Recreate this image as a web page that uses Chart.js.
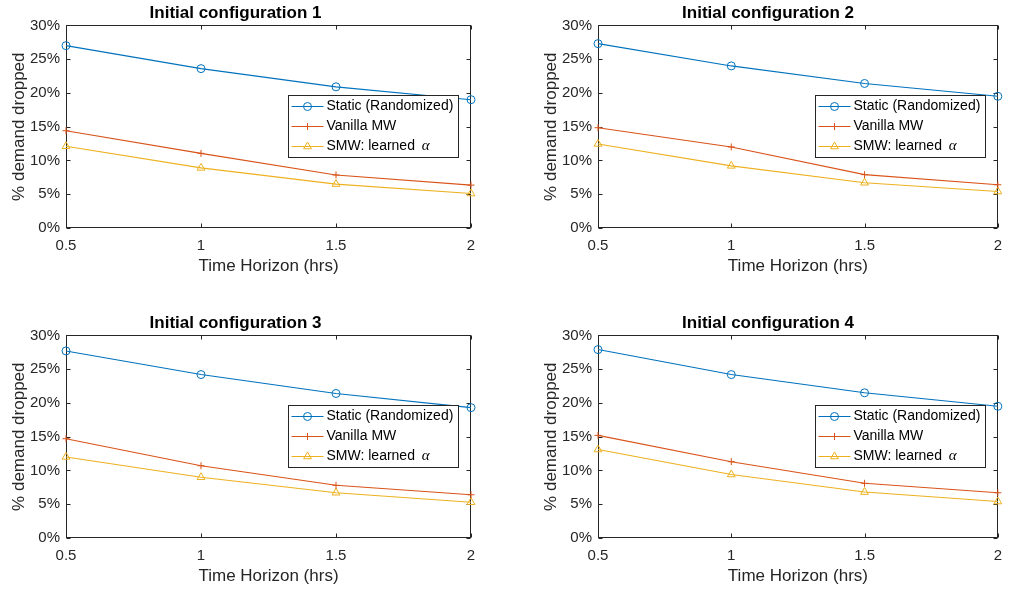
<!DOCTYPE html>
<html><head><meta charset="utf-8">
<script src="https://cdn.jsdelivr.net/npm/chart.js@4/dist/chart.umd.min.js"></script>
<style>
html,body{margin:0;padding:0;background:#fff;width:1011px;height:590px;overflow:hidden}
canvas{position:absolute;display:block}
</style></head><body>
<canvas id="c1" width="505" height="290" style="left:0;top:0"></canvas>
<canvas id="c2" width="479" height="290" style="left:532px;top:0"></canvas>
<canvas id="c3" width="505" height="290" style="left:0;top:310px"></canvas>
<canvas id="c4" width="479" height="290" style="left:532px;top:310px"></canvas>
<script>
// ---- data ----
const horizons = [0.5, 1, 1.5, 2];
const xTicks = [0.5, 1, 1.5, 2];
const yTicks = [0, 5, 10, 15, 20, 25, 30];
const seriesNames = ['Static (Randomized)', 'Vanilla MW', 'SMW: learned α'];
const titles = ['Initial configuration 1', 'Initial configuration 2', 'Initial configuration 3', 'Initial configuration 4'];
const xLabel = 'Time Horizon (hrs)';
const yLabel = '% demand dropped';

const static1  = [27.0, 23.6, 20.9, 19.0];
const vanilla1 = [14.4, 11.05, 7.85, 6.35];
const smw1     = [12.1, 8.9, 6.5, 5.1];

const static2  = [27.3, 24.0, 21.4, 19.5];
const vanilla2 = [14.85, 12.0, 7.9, 6.4];
const smw2     = [12.45, 9.2, 6.7, 5.4];

const static3  = [27.7, 24.2, 21.4, 19.3];
const vanilla3 = [14.7, 10.7, 7.8, 6.4];
const smw3     = [12.0, 9.0, 6.7, 5.3];

const static4  = [27.9, 24.2, 21.5, 19.5];
const vanilla4 = [15.2, 11.3, 8.1, 6.7];
const smw4     = [13.1, 9.4, 6.8, 5.4];

// ---- style ----
const F = '"Liberation Sans", Arial, Helvetica, sans-serif';
const colors = ['#0072BD', '#D95319', '#EDB120'];
const markers = ['circle', 'cross', 'triangle'];
const markerR = [4, 3.5, 4.5];
const AX = '#262626';

const framePlugin = {
  id: 'frame',
  beforeDatasetsDraw(chart) {
    const {ctx, chartArea: a, scales: {x, y}} = chart;
    ctx.save();
    ctx.strokeStyle = AX;
    ctx.lineWidth = 1;
    const L = Math.round(a.left) + 0.5, R = Math.round(a.right) - 0.5;
    const T = Math.round(a.top) + 0.5, B = Math.round(a.bottom) - 0.5;
    ctx.strokeRect(L, T, R - L, B - T);
    const tl = 4;
    ctx.beginPath();
    xTicks.forEach(v => {
      const px = Math.round(x.getPixelForValue(v)) + 0.5;
      ctx.moveTo(px, B); ctx.lineTo(px, B - tl);
      ctx.moveTo(px, T); ctx.lineTo(px, T + tl);
    });
    yTicks.forEach(v => {
      const py = Math.round(y.getPixelForValue(v)) + 0.5;
      ctx.moveTo(L, py); ctx.lineTo(L + tl, py);
      ctx.moveTo(R, py); ctx.lineTo(R - tl, py);
    });
    ctx.stroke();
    ctx.restore();
  },
  afterDatasetsDraw(chart) {
    const {ctx, chartArea: a} = chart;
    const w = 170, h = 62;
    const bx = Math.round(a.right - 13 - w) + 0.5;
    const by = Math.round(a.top + 70) + 0.5;
    ctx.save();
    ctx.fillStyle = '#fff';
    ctx.fillRect(bx, by, w, h);
    ctx.strokeStyle = AX;
    ctx.lineWidth = 1;
    ctx.strokeRect(bx, by, w, h);
    chart.data.datasets.forEach((ds, i) => {
      const cy = by + 11 + i * 20;
      ctx.strokeStyle = ds.borderColor;
      ctx.lineWidth = 1;
      ctx.beginPath();
      ctx.moveTo(bx + 3, cy); ctx.lineTo(bx + 35, cy);
      ctx.stroke();
      ctx.fillStyle = 'rgba(0,0,0,0)';
      ctx.strokeStyle = ds.borderColor;
      Chart.helpers.drawPoint(ctx, {pointStyle: ds.pointStyle, radius: ds.pointRadius, borderWidth: 1, rotation: 0}, bx + 19, cy);
      ctx.fillStyle = '#000';
      ctx.textBaseline = 'middle';
      ctx.textAlign = 'left';
      ctx.font = '14px ' + F;
      const label = ds.label;
      if (label.endsWith('α')) {
        const base = label.slice(0, -1);
        ctx.fillText(base, bx + 38, cy);
        const wb = ctx.measureText(base).width;
        ctx.font = 'italic 15px "Liberation Serif", "DejaVu Serif", serif';
        ctx.fillText('α', bx + 38 + wb + 3, cy);
      } else {
        ctx.fillText(label, bx + 38, cy);
      }
    });
    ctx.restore();
  }
};

function makeChart(id, title, s, v, m, padRight) {
  const vals = [s, v, m];
  new Chart(document.getElementById(id), {
    type: 'line',
    data: {
      datasets: vals.map((arr, i) => ({
        label: seriesNames[i],
        data: horizons.map((hx, j) => ({x: hx, y: arr[j]})),
        borderColor: colors[i],
        backgroundColor: 'rgba(0,0,0,0)',
        pointBackgroundColor: 'rgba(0,0,0,0)',
        pointBorderColor: colors[i],
        pointStyle: markers[i],
        pointRadius: markerR[i],
        pointBorderWidth: 1,
        borderWidth: 1.1,
        tension: 0,
        clip: false
      }))
    },
    options: {
      responsive: false,
      animation: false,
      events: [],
      layout: {padding: {left: 0, right: padRight, top: 0, bottom: 0}},
      plugins: {
        legend: {display: false},
        tooltip: {enabled: false},
        title: {display: true, text: title, color: '#000',
          font: {family: F, size: 17, weight: 'bold'}, padding: {top: 3, bottom: 2}}
      },
      scales: {
        x: {
          type: 'linear', min: 0.5, max: 2,
          afterFit(sc) { sc.height = 62; },
          afterBuildTicks(sc) { sc.ticks = xTicks.map(t => ({value: t})); },
          grid: {display: false, drawTicks: false},
          border: {display: false},
          ticks: {color: AX, font: {family: F, size: 15}, padding: 9, maxRotation: 0, autoSkip: false,
            callback: val => String(val)},
          title: {display: true, text: xLabel, color: AX, font: {family: F, size: 17}, padding: {top: 0, bottom: 13}}
        },
        y: {
          min: 0, max: 30,
          afterFit(sc) { sc.width = 66; },
          afterBuildTicks(sc) { sc.ticks = yTicks.map(t => ({value: t})); },
          grid: {display: false, drawTicks: false},
          border: {display: false},
          ticks: {color: AX, font: {family: F, size: 15}, padding: 6, autoSkip: false,
            callback: val => val + '%'},
          title: {display: true, text: yLabel, color: AX, font: {family: F, size: 17}, padding: {top: 9, bottom: 0}}
        }
      }
    },
    plugins: [framePlugin]
  });
}

makeChart('c1', titles[0], static1, vanilla1, smw1, 34);
makeChart('c2', titles[1], static2, vanilla2, smw2, 7);
makeChart('c3', titles[2], static3, vanilla3, smw3, 34);
makeChart('c4', titles[3], static4, vanilla4, smw4, 7);
</script>
</body></html>
